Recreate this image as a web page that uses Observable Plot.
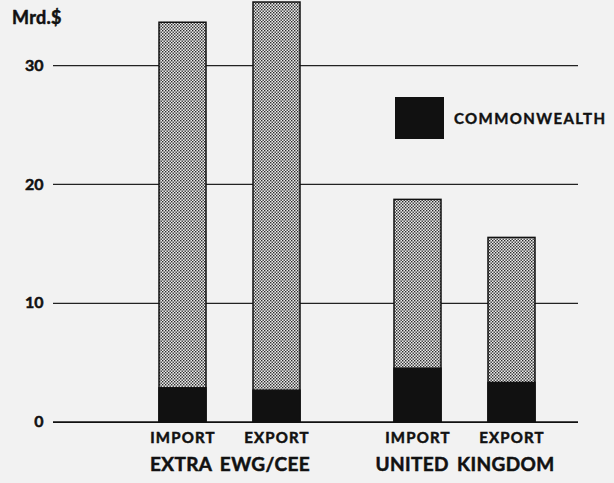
<!DOCTYPE html>
<html><head><meta charset="utf-8">
<script src="https://cdn.jsdelivr.net/npm/d3@7"></script>
<script src="https://cdn.jsdelivr.net/npm/@observablehq/plot@0.6"></script>
<style>
html,body{margin:0;padding:0;background:#f2f2f2;}
#wrap{position:relative;width:614px;height:483px;font-family:Lato,"Open Sans",sans-serif;font-weight:700;color:#111;}
#wrap svg{display:block;background:#f2f2f2;}
#unit{position:absolute;left:12px;top:6px;font-size:18px;font-weight:700;letter-spacing:0.3px;-webkit-text-stroke:0.5px #111;}
#legend{position:absolute;left:395px;top:97px;display:flex;align-items:center;}
#legend .sw{width:49px;height:42px;background:#111;}
#legend .lb{margin-left:10px;font-size:15px;font-weight:700;letter-spacing:1.4px;-webkit-text-stroke:0.4px #111;}
.thick text{paint-order:stroke;stroke:#111;stroke-width:0.5px;}
</style></head><body><div id="wrap"></div>
<script>
// ---- data ----
const barKeys = ["EXTRA-IMPORT", "EXTRA-EXPORT", "UK-IMPORT", "UK-EXPORT"];
const tradeLabels = ["IMPORT", "EXPORT", "IMPORT", "EXPORT"];
const groupLabels = ["EXTRA EWG/CEE", "UNITED KINGDOM"];
const totalValues = [33.6, 35.3, 18.7, 15.5];
const commonwealthValues = [2.85, 2.65, 4.5, 3.3];
const yTicks = [0, 10, 20, 30];
const gridValues = [10, 20, 30];
const unitLabel = "Mrd.$";
const legendLabel = "COMMONWEALTH";

// ---- build ----
const bars = barKeys.map((k, i) => ({key: k, label: tradeLabels[i], total: totalValues[i], cw: commonwealthValues[i]}));
const groups = groupLabels.map(g => ({key: g}));
// band domain: group labels sit between their two bars, plus a spacer between groups
const xDomain = [barKeys[0], groupLabels[0], barKeys[1], "·gap1", "·gap2", barKeys[2], groupLabels[1], barKeys[3]];

const svg = Plot.plot({
  width: 614,
  height: 483,
  marginLeft: 53,
  marginRight: 36,
  marginTop: 0,
  marginBottom: 61.3,
  style: {background: "#f2f2f2", fontFamily: "Lato, 'Open Sans', sans-serif", color: "#111"},
  x: {type: "band", domain: xDomain, paddingInner: 0, paddingOuter: 1.526, align: 0.711, axis: null},
  y: {domain: [0, 35.47], ticks: yTicks, tickSize: 0, tickPadding: 10, label: null},
  marks: [
    Plot.ruleY(gridValues, {stroke: "#222", strokeWidth: 1.3}),
    Plot.barY(bars, {x: "key", y: "total", fill: "url(#stipple)", stroke: "#111", strokeWidth: 1.5}),
    Plot.barY(bars, {x: "key", y: "cw", fill: "#111", stroke: "#111", strokeWidth: 1.5}),
    Plot.ruleY([0], {stroke: "#111", strokeWidth: 1.8}),
    Plot.text(bars, {x: "key", text: "label", frameAnchor: "bottom", dy: 21, fontSize: 15, fontWeight: 700, fill: "#111", className: "thick tl"}),
    Plot.text(groups, {x: "key", text: "key", frameAnchor: "bottom", dy: 48.5, fontSize: 19, fontWeight: 700, fill: "#111", className: "thick gl"})
  ]
});

const defs = d3.select(svg).insert("defs", ":first-child");
const pat = defs.append("pattern").attr("id", "stipple").attr("width", 3).attr("height", 3).attr("patternUnits", "userSpaceOnUse");
pat.append("rect").attr("width", 3).attr("height", 3).attr("fill", "#ececec");
pat.append("rect").attr("x", 0).attr("y", 0).attr("width", 1.4).attr("height", 1.4).attr("fill", "#2a2a2a");
pat.append("rect").attr("x", 1.5).attr("y", 1.5).attr("width", 1.4).attr("height", 1.4).attr("fill", "#2a2a2a");

d3.select(svg).selectAll(".tl text").attr("letter-spacing", 1.2);
d3.select(svg).selectAll(".gl text").attr("letter-spacing", 0.4).attr("word-spacing", 3);
const yax = d3.select(svg).selectAll("[aria-label='y-axis'], [aria-label='y-axis tick label']");
yax.attr("font-size", 16).attr("font-weight", 700).classed("thick", true);

const wrap = document.getElementById("wrap");
wrap.appendChild(svg);
const u = document.createElement("div"); u.id = "unit"; u.textContent = unitLabel; wrap.appendChild(u);
const lg = document.createElement("div"); lg.id = "legend";
lg.innerHTML = '<div class="sw"></div><div class="lb"></div>';
lg.querySelector(".lb").textContent = legendLabel;
wrap.appendChild(lg);
</script></body></html>
